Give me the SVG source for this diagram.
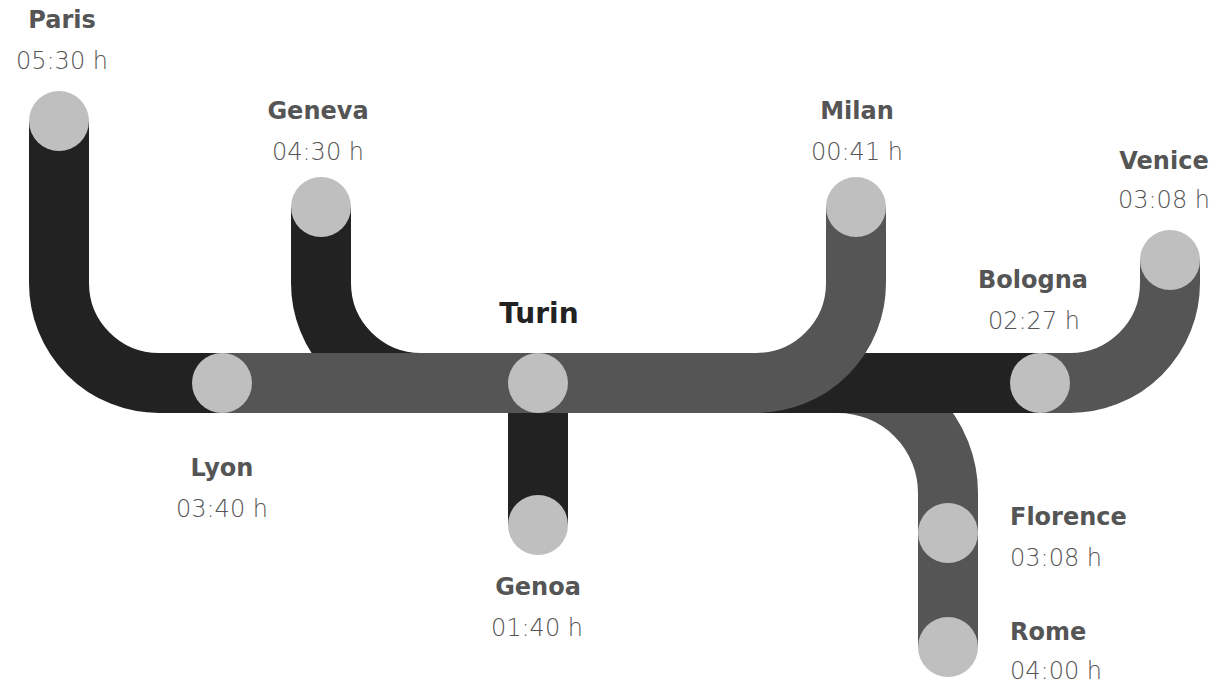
<svg xmlns="http://www.w3.org/2000/svg" width="1217" height="684" viewBox="0 0 1217 684">
<style>
.trk{fill:none;stroke-width:60;stroke-linecap:butt}
.dk{stroke:#222222}
.gr{stroke:#555555}
.stn{fill:#bfbfbf}
.nm{font-family:"DejaVu Sans","Liberation Sans",sans-serif;font-weight:bold;font-size:24px;fill:#555555}
.tm{font-family:"DejaVu Sans","Liberation Sans",sans-serif;font-weight:200;font-size:24px;fill:#555555}
.hub{font-family:"DejaVu Sans","Liberation Sans",sans-serif;font-weight:bold;font-size:28px;fill:#222222}
.c{text-anchor:middle}
</style>
<rect width="1217" height="684" fill="#ffffff"/>
<g id="connectors">
<path class="trk gr" d="M538,383 H838 A110,110 0 0 1 948,493 V647"/>
<path class="trk dk" d="M321,207 V283 A100,100 0 0 0 421,383 H1040"/>
<path class="trk dk" d="M59,121 V283 A100,100 0 0 0 159,383 H222"/>
<path class="trk dk" d="M538,383 V525"/>
<path class="trk gr" d="M222,383 H756 A100,100 0 0 0 856,283 V207"/>
<path class="trk gr" d="M1040,383 H1070 A100,100 0 0 0 1170,283 V260"/>
</g>
<g id="paris"><circle class="stn" cx="59" cy="121" r="30"/><text class="nm c" x="62" y="28">Paris</text><text class="tm c" x="62" y="69">05:30 h</text></g>
<g id="geneva"><circle class="stn" cx="321" cy="207" r="30"/><text class="nm c" x="318" y="119">Geneva</text><text class="tm c" x="318" y="160">04:30 h</text></g>
<g id="milan"><circle class="stn" cx="856" cy="207" r="30"/><text class="nm c" x="857" y="119">Milan</text><text class="tm c" x="857" y="160">00:41 h</text></g>
<g id="venice"><circle class="stn" cx="1170" cy="260" r="30"/><text class="nm c" x="1164" y="169">Venice</text><text class="tm c" x="1164" y="208">03:08 h</text></g>
<g id="bologna"><circle class="stn" cx="1040" cy="383" r="30"/><text class="nm c" x="1033" y="288">Bologna</text><text class="tm c" x="1034" y="329">02:27 h</text></g>
<g id="lyon"><circle class="stn" cx="222" cy="383" r="30"/><text class="nm c" x="222" y="476">Lyon</text><text class="tm c" x="222" y="517">03:40 h</text></g>
<g id="turin"><circle class="stn" cx="538" cy="383" r="30"/><text class="hub c" x="539" y="323">Turin</text></g>
<g id="genoa"><circle class="stn" cx="538" cy="525" r="30"/><text class="nm c" x="538" y="595">Genoa</text><text class="tm c" x="537" y="636">01:40 h</text></g>
<g id="florence"><circle class="stn" cx="948" cy="533" r="30"/><text class="nm" x="1010" y="525">Florence</text><text class="tm" x="1010" y="566">03:08 h</text></g>
<g id="rome"><circle class="stn" cx="948" cy="647" r="30"/><text class="nm" x="1010" y="640">Rome</text><text class="tm" x="1010" y="679">04:00 h</text></g>
</svg>
